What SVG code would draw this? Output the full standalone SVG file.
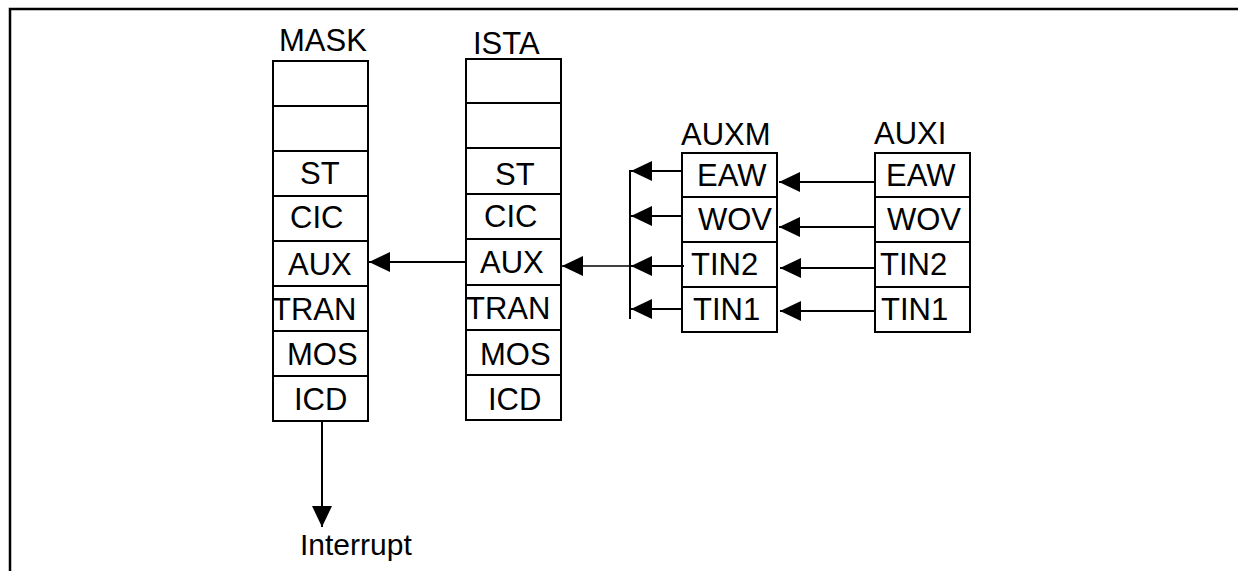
<svg xmlns="http://www.w3.org/2000/svg" width="1238" height="571" viewBox="0 0 1238 571">
<style>
.box{fill:#fff;stroke:#000;stroke-width:2}
.sep{stroke:#000;stroke-width:2}
.t{font-family:"Liberation Sans",Arial,sans-serif;font-size:31px;fill:#000}
.ln{stroke:#000;stroke-width:2;fill:none}
.thin{stroke:#000;stroke-width:1.5;fill:none}
</style>
<defs>
<marker id="ah" markerUnits="userSpaceOnUse" markerWidth="22" markerHeight="20" refX="21" refY="10" orient="auto" viewBox="0 0 22 20">
<path d="M0,0 L21,10 L0,20 z" fill="#000"/>
</marker>
</defs>
<rect width="1238" height="571" fill="#fff"/>
<path d="M10,571 V9 H1238" fill="none" stroke="#000" stroke-width="2.5"/>

<g id="mask">
<text class="t" x="279" y="51">MASK</text>
<rect class="box" x="273" y="61" width="95" height="360"/>
<path class="sep" d="M273,106H368M273,151H368M273,196H368M273,241H368M273,286H368M273,331H368M273,376H368"/>
<text class="t" x="300" y="184">ST</text>
<text class="t" x="290" y="228">CIC</text>
<text class="t" x="288" y="275">AUX</text>
<text class="t" x="272" y="320">TRAN</text>
<text class="t" x="287" y="365">MOS</text>
<text class="t" x="294" y="410">ICD</text>
</g>

<g id="ista">
<text class="t" x="473" y="54">ISTA</text>
<rect class="box" x="466" y="59" width="95" height="361"/>
<path class="sep" d="M466,103H561M466,148H561M466,194H561M466,239H561M466,285H561M466,330H561M466,375H561"/>
<text class="t" x="495" y="185">ST</text>
<text class="t" x="484" y="227">CIC</text>
<text class="t" x="480" y="273">AUX</text>
<text class="t" x="466" y="319">TRAN</text>
<text class="t" x="480" y="365">MOS</text>
<text class="t" x="488" y="410">ICD</text>
</g>

<g id="auxm">
<text class="t" x="681" y="145">AUXM</text>
<rect class="box" x="682" y="153" width="95" height="179"/>
<path class="sep" d="M682,197H777M682,242H777M682,287H777"/>
<text class="t" x="697" y="186">EAW</text>
<text class="t" x="698" y="230">WOV</text>
<text class="t" x="691" y="275">TIN2</text>
<text class="t" x="693" y="320">TIN1</text>
</g>

<g id="auxi">
<text class="t" x="874" y="144">AUXI</text>
<rect class="box" x="875" y="153" width="95" height="179"/>
<path class="sep" d="M875,197H970M875,242H970M875,287H970"/>
<text class="t" x="886" y="186">EAW</text>
<text class="t" x="887" y="230">WOV</text>
<text class="t" x="880" y="275">TIN2</text>
<text class="t" x="881" y="320">TIN1</text>
</g>

<g id="interrupt">
<text class="t" x="300" y="555" style="font-size:30px">Interrupt</text>
</g>

<g id="connectors">
<line class="ln" x1="630" y1="170" x2="630" y2="319"/>
<line class="ln" x1="682" y1="171" x2="631" y2="171" marker-end="url(#ah)"/>
<line class="ln" x1="682" y1="216" x2="631" y2="216" marker-end="url(#ah)"/>
<line class="ln" x1="684" y1="266" x2="631" y2="266" marker-end="url(#ah)"/>
<line class="ln" x1="682" y1="309" x2="631" y2="309" marker-end="url(#ah)"/>
<line class="thin" x1="630" y1="266" x2="562" y2="266" marker-end="url(#ah)"/>
<line class="ln" x1="466" y1="262" x2="369" y2="262" marker-end="url(#ah)"/>
<line class="ln" x1="875" y1="182" x2="779" y2="182" marker-end="url(#ah)"/>
<line class="ln" x1="875" y1="227" x2="779" y2="227" marker-end="url(#ah)"/>
<line class="ln" x1="876" y1="268" x2="780" y2="268" marker-end="url(#ah)"/>
<line class="ln" x1="876" y1="311" x2="780" y2="311" marker-end="url(#ah)"/>
<line class="ln" x1="322" y1="421" x2="322" y2="527" marker-end="url(#ah)"/>
</g>
</svg>
